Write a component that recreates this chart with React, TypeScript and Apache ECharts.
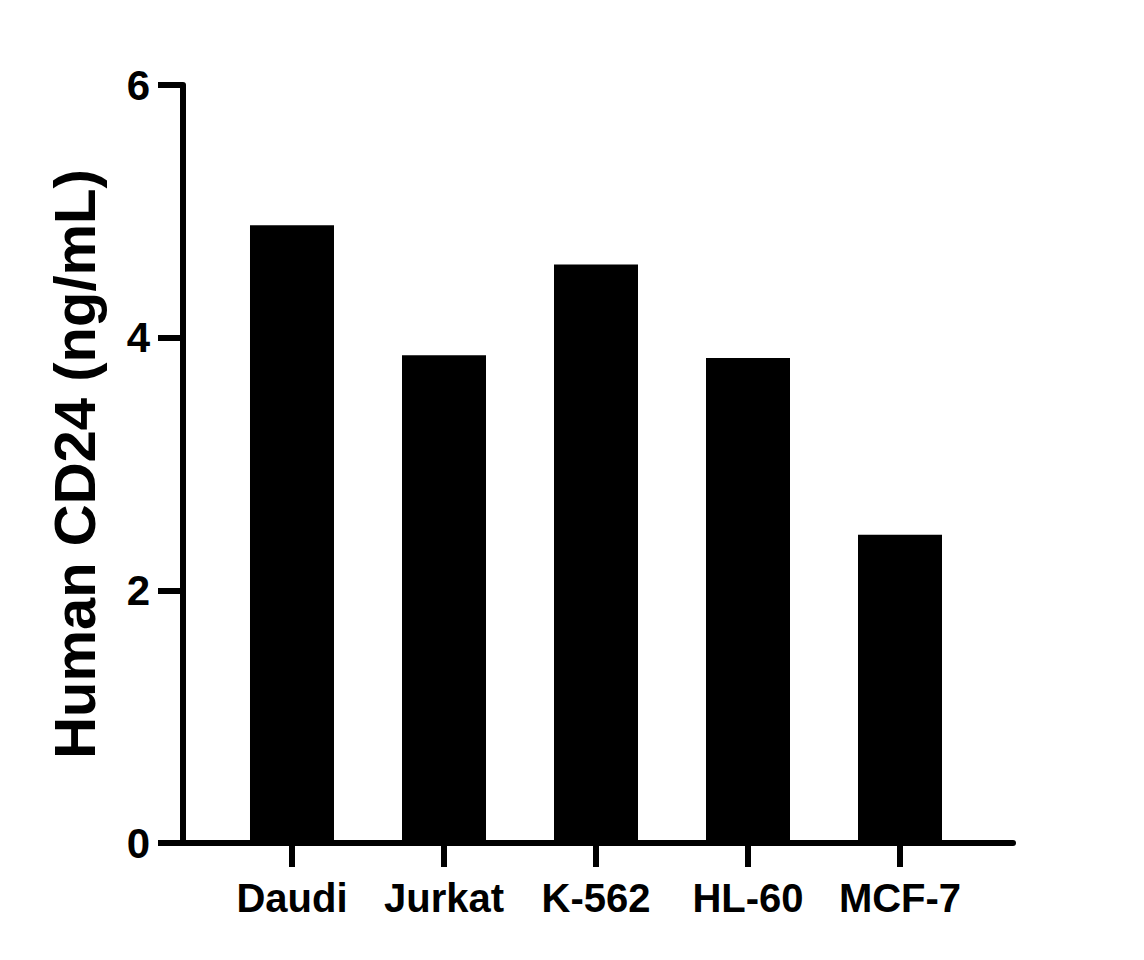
import { useEffect, useRef } from "react";
import * as echarts from "echarts";

// Cell lines on the x axis, CD24 concentration
const cellLines = ["Daudi", "Jurkat", "K-562", "HL-60", "MCF-7"];
const cd24Values = [4.89, 3.86, 4.58, 3.84, 2.44];
const yTicks = { min: 0, max: 6, interval: 2 };

const FONT = '"Liberation Sans", Arial, Helvetica, sans-serif';

export default function App() {
  const chartRef = useRef<HTMLDivElement>(null);

  useEffect(() => {
    document.body.style.margin = "0";
    if (!chartRef.current) return;
    const chart = echarts.init(chartRef.current, undefined, { renderer: "svg" });

    const idx = cellLines.map((_, i) => i);

    chart.setOption({
      animation: false,
      backgroundColor: "#ffffff",
      grid: { left: 183, right: 131, top: 85, bottom: 117, containLabel: false },
      xAxis: {
        type: "value",
        // category centres sit 152px apart; the axis line runs past them on both sides
        min: -0.7171,
        max: 4.7434,
        splitLine: { show: false },
        axisLine: { show: true, onZero: false, lineStyle: { color: "#000", width: 6 } },
        axisTick: {
          show: true,
          customValues: idx,
          length: 24,
          lineStyle: { color: "#000", width: 6 },
        },
        axisLabel: {
          customValues: idx,
          formatter: (v: number) => cellLines[Math.round(v)] ?? "",
          margin: 35,
          color: "#000",
          fontSize: 40,
          fontWeight: "bold",
          fontFamily: FONT,
        },
      },
      yAxis: {
        type: "value",
        min: yTicks.min,
        max: yTicks.max,
        interval: yTicks.interval,
        name: "Human CD24 (ng/mL)",
        nameLocation: "middle",
        nameGap: 80,
        nameTextStyle: {
          color: "#000",
          fontSize: 58,
          fontWeight: "bold",
          fontFamily: FONT,
        },
        splitLine: { show: false },
        axisLine: { show: true, onZero: false, lineStyle: { color: "#000", width: 6 } },
        axisTick: { show: true, length: 25, lineStyle: { color: "#000", width: 6 } },
        axisLabel: {
          margin: 33,
          color: "#000",
          fontSize: 42,
          fontWeight: "bold",
          fontFamily: FONT,
        },
      },
      series: [
        {
          type: "bar",
          barWidth: 84,
          itemStyle: { color: "#000" },
          data: cd24Values.map((v, i) => [i, v]),
        },
      ],
    });

    return () => chart.dispose();
  }, []);

  return <div ref={chartRef} style={{ width: 1144, height: 960 }} />;
}
